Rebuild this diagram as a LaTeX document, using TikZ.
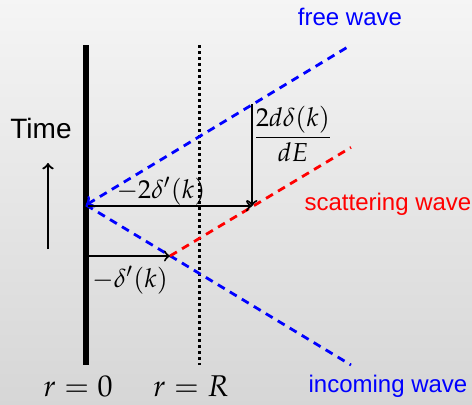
\documentclass[tikz,border=0pt]{standalone}
\usepackage{mathpazo}
\usepackage{amsmath}
\usepackage{fontspec}
\newfontfamily\labelfont{Liberation Sans}
\usetikzlibrary{positioning}

\begin{document}
\begin{tikzpicture}[x=0.5pt,y=-0.5pt,
    wave/.style={line width=1.4pt,dash pattern=on 4pt off 3pt},
    shift arrow/.style={line width=1pt,->},
    mathlbl/.style={font=\fontsize{13}{15}\selectfont},
    txtlbl/.style={font=\labelfont\fontsize{12}{14}\selectfont}]
  % background
  \shade[top color=gray!8,bottom color=gray!32] (0,0) rectangle (472,404);
  \useasboundingbox (0,0) rectangle (472,404);

  % wall and r = R
  \coordinate (wallTop) at (86,45);
  \coordinate (wallBot) at (86,365);
  \coordinate (RTop) at (199.5,45);
  \coordinate (RBot) at (199.5,365);
  \draw[line width=3.3pt] (wallTop) -- (wallBot);
  \draw[line width=1.5pt,dash pattern=on 1.5pt off 1.5pt] (RTop) -- (RBot);

  % waves
  \coordinate (O) at (86,205);
  \coordinate (freeEnd) at (351,45);
  \coordinate (inEnd) at (351,365);
  \coordinate (scatStart) at (170,256);
  \coordinate (scatEnd) at (351,147.4);
  \draw[wave,blue,<-] (O) -- (freeEnd);
  \draw[wave,blue] (O) -- (inEnd);
  \draw[wave,red] (scatStart) -- (scatEnd);

  % shifts
  \coordinate (longStart) at (88,206);
  \coordinate (scatHit) at (252,206);
  \coordinate (freeHit) at (252,104);
  \coordinate (shortStart) at (88,256);
  \draw[shift arrow] (longStart) -- (scatHit);
  \draw[shift arrow] (freeHit) -- (scatHit);
  \draw[shift arrow] (shortStart) -- (scatStart);

  \node[mathlbl] (longLbl) at (161,191) {$-2\delta'(k)$};
  \node[mathlbl] (shortLbl) at (130,280) {$-\delta'(k)$};
  \node[mathlbl] (fracLbl) at (293,134) {$\dfrac{2d\delta(k)}{dE}$};

  % wave names
  \node[txtlbl,blue] (freeLbl) at (350,17) {free wave};
  \node[txtlbl,red] (scatLbl) at (388,204) {scattering wave};
  \node[txtlbl,blue] (inLbl) at (388,386) {incoming wave};

  % time axis
  \node[font=\labelfont\fontsize{14}{16}\selectfont] (timeLbl) at (41,128) {Time};
  \coordinate (timeBot) at (48,249);
  \coordinate (timeTop) at (48,163);
  \draw[line width=1.1pt,->] (timeBot) -- (timeTop);

  % positions
  \node[anchor=base,inner sep=0pt,font=\fontsize{15}{17}\selectfont] (rZero) at (78,396) {$r=0$};
  \node[anchor=base,inner sep=0pt,font=\fontsize{15}{17}\selectfont] (rWall) at (191,396) {$r=R$};
\end{tikzpicture}
\end{document}
